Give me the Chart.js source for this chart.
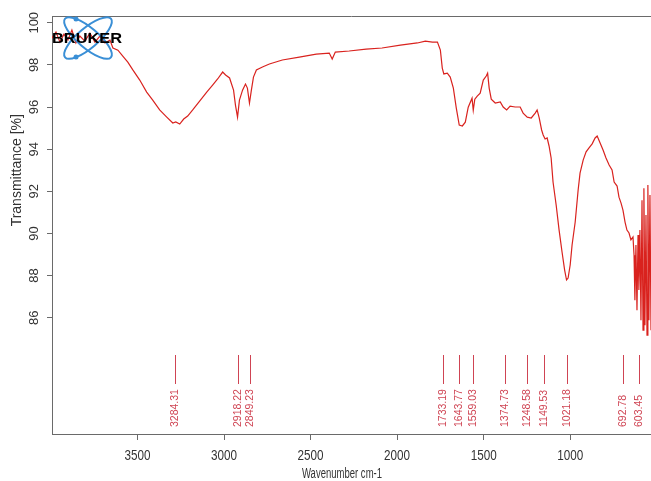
<!DOCTYPE html>
<html>
<head>
<meta charset="utf-8">
<script src="https://cdn.jsdelivr.net/npm/chart.js@4.4.0/dist/chart.umd.min.js"></script>
<style>
html, body { margin: 0; padding: 0; background: #fff; }
#wrap { width: 651px; height: 481px; }
</style>
</head>
<body>
<div id="wrap"><canvas id="myChart" width="651" height="481"></canvas></div>
<script>
// spectrum (wavenumber cm-1 / transmittance %)
const wavenumbers = [
    3994, 3971, 3948, 3925, 3902, 3879, 3856, 3833, 3804, 3775, 3746, 3717, 3688, 3659, 3642, 3613,
    3585, 3556, 3527, 3487, 3447, 3412, 3372, 3331, 3296, 3279, 3256, 3233, 3210, 3181, 3141, 3100,
    3066, 3037, 3008, 2991, 2968, 2945, 2934, 2922, 2911, 2893, 2876, 2865, 2853, 2842, 2830, 2813,
    2778, 2738, 2663, 2565, 2467, 2392, 2375, 2357, 2277, 2179, 2087, 1981, 1883, 1837, 1796, 1767,
    1750, 1739, 1730, 1710, 1693, 1675, 1658, 1641, 1623, 1606, 1589, 1567, 1560, 1551, 1537, 1520,
    1502, 1485, 1477, 1468, 1456, 1433, 1404, 1387, 1367, 1347, 1318, 1289, 1272, 1248, 1225, 1202,
    1191, 1179, 1165, 1156, 1145, 1133, 1122, 1110, 1099, 1081, 1064, 1047, 1032, 1021, 1012, 1000,
    989, 971, 954, 943, 925, 908, 891, 873, 856, 844, 827, 810, 793, 775, 758, 746,
    729, 718, 706, 695, 683, 672, 660, 649, 637, 631, 626, 620, 614, 608, 603, 597,
    591, 585, 579, 574, 568, 562, 556, 551, 545, 539, 533
]
const transmittance = [
    99.27, 99.56, 99.08, 99.46, 99.18, 99.65, 99.04, 99.37, 99.13, 99.51, 99.08, 99.37, 99.04, 99.18, 98.80, 98.70,
    98.42, 98.13, 97.76, 97.28, 96.71, 96.33, 95.86, 95.52, 95.24, 95.29, 95.19, 95.43, 95.57, 95.86, 96.28, 96.71,
    97.04, 97.33, 97.66, 97.52, 97.38, 96.80, 96.09, 95.52, 96.33, 96.80, 97.09, 96.90, 96.19, 96.80, 97.42, 97.76,
    97.90, 98.04, 98.23, 98.37, 98.51, 98.56, 98.28, 98.61, 98.66, 98.75, 98.80, 98.94, 99.04, 99.13, 99.08, 99.08,
    98.70, 97.85, 97.57, 97.61, 97.42, 96.90, 95.95, 95.14, 95.10, 95.28, 95.99, 96.42, 95.85, 96.37, 96.52, 96.66,
    97.28, 97.47, 97.61, 96.90, 96.37, 96.19, 96.24, 96.00, 95.86, 96.04, 96.00, 96.00, 95.71, 95.52, 95.48, 95.71,
    95.86, 95.48, 94.91, 94.67, 94.48, 94.53, 94.15, 93.58, 92.44, 91.35, 90.16, 89.12, 88.26, 87.79, 87.88, 88.50,
    89.45, 90.54, 92.06, 92.86, 93.48, 93.87, 94.06, 94.25, 94.53, 94.62, 94.29, 93.96, 93.58, 93.25, 93.01, 92.44,
    92.25, 91.72, 91.44, 91.11, 90.54, 90.16, 90.02, 89.69, 89.83, 88.97, 86.83, 89.45, 86.36, 89.92, 87.31, 90.16,
    85.88, 91.58, 85.41, 92.15, 85.64, 90.87, 85.17, 92.30, 85.88, 91.82, 85.41
]
const peakPositions = [3284.31, 2918.22, 2849.23, 1733.19, 1643.77, 1559.03, 1374.73, 1248.58, 1149.53, 1021.18, 692.78, 603.45]
const peakLabels = ['3284.31', '2918.22', '2849.23', '1733.19', '1643.77', '1559.03', '1374.73', '1248.58', '1149.53', '1021.18', '692.78', '603.45']
const xTicks = [3500, 3000, 2500, 2000, 1500, 1000]
const yTicks = [86, 88, 90, 92, 94, 96, 98, 100]

const FONT = '"Liberation Sans", Arial, sans-serif'

// axis texts, peak picks, top frame line and the logo
const decor = {
    id: 'decor',
    afterDraw(chart) {
        const ctx = chart.ctx
        const area = chart.chartArea
        const xs = chart.scales.x
        const ys = chart.scales.y

        ctx.save()
        ctx.strokeStyle = '#6a6a6a'
        ctx.lineWidth = 1
        ctx.beginPath()
        ctx.moveTo(area.left, area.top + 0.5)
        ctx.lineTo(area.right, area.top + 0.5)
        ctx.stroke()

        ctx.fillStyle = '#333'
        ctx.textAlign = 'center'
        ctx.textBaseline = 'middle'

        // y tick labels (rotated like the R output)
        ctx.font = '13px ' + FONT
        yTicks.forEach(v => {
            ctx.save()
            ctx.translate(34, ys.getPixelForValue(v))
            ctx.rotate(-Math.PI / 2)
            ctx.fillText(String(v), 0, 0)
            ctx.restore()
        })

        // y title centred on the labelled range
        const yMid = (ys.getPixelForValue(yTicks[0]) + ys.getPixelForValue(yTicks[yTicks.length - 1])) / 2
        ctx.font = '14px ' + FONT
        ctx.save()
        ctx.translate(17, yMid)
        ctx.rotate(-Math.PI / 2)
        ctx.fillText('Transmittance [%]', 0, 0)
        ctx.restore()

        // x tick labels
        ctx.font = '15px ' + FONT
        xTicks.forEach(v => {
            ctx.save()
            ctx.translate(xs.getPixelForValue(v), 456)
            ctx.scale(0.78, 1)
            ctx.fillText(String(v), 0, 0)
            ctx.restore()
        })

        // x title
        ctx.font = '14px ' + FONT
        ctx.textBaseline = 'alphabetic'
        ctx.save()
        ctx.translate(342, 478)
        ctx.scale(0.68, 1)
        ctx.fillText('Wavenumber cm-1', 0, 0)
        ctx.restore()

        // peak picks
        ctx.strokeStyle = '#cf4453'
        ctx.fillStyle = '#cf4453'
        ctx.font = '10.5px ' + FONT
        ctx.textAlign = 'left'
        ctx.textBaseline = 'middle'
        peakPositions.forEach((p, i) => {
            const px = Math.round(xs.getPixelForValue(p)) + 0.5
            ctx.beginPath()
            ctx.moveTo(px, 355)
            ctx.lineTo(px, 384)
            ctx.stroke()
            ctx.save()
            ctx.translate(px, 427)
            ctx.rotate(-Math.PI / 2)
            ctx.fillText(peakLabels[i], 0, 0)
            ctx.restore()
        })

        // BRUKER logo
        const cx = 88, cy = 38
        ctx.strokeStyle = '#3a8fd6'
        ctx.fillStyle = '#3a8fd6'
        ctx.lineWidth = 2
        ;[0.7, -0.7].forEach(a => {
            ctx.beginPath()
            ctx.ellipse(cx, cy, 30, 10, a, 0, Math.PI * 2)
            ctx.stroke()
        })
        ;[[76, 19], [76, 57]].forEach(d => {
            ctx.beginPath()
            ctx.arc(d[0], d[1], 2.5, 0, Math.PI * 2)
            ctx.fill()
        })
        ctx.fillStyle = '#000'
        ctx.font = 'bold 14px ' + FONT
        ctx.textAlign = 'center'
        const w = ctx.measureText('BRUKER').width
        ctx.save()
        ctx.translate(87, cy + 1)
        ctx.scale(70 / w, 1)
        ctx.fillText('BRUKER', 0, 0)
        ctx.restore()

        ctx.restore()
    }
}

const data = {
    datasets: [{
        data: wavenumbers.map((w, i) => ({ x: w, y: transmittance[i] })),
        borderColor: '#d9221e',
        borderWidth: 1.2,
        pointRadius: 0,
        tension: 0,
        fill: false
    }]
}

const config = {
    type: 'line',
    data: data,
    options: {
        responsive: false,
        animation: false,
        layout: { padding: { top: 16, left: 0, right: 0, bottom: 0 } },
        plugins: { legend: { display: false }, tooltip: { enabled: false } },
        scales: {
            x: {
                type: 'linear',
                reverse: true,
                min: 533,
                max: 3994,
                afterBuildTicks: s => { s.ticks = xTicks.map(v => ({ value: v })) },
                afterFit: s => { s.height = 47 },
                ticks: { display: false },
                grid: { drawOnChartArea: false, drawTicks: true, tickLength: 6, color: '#6a6a6a' },
                border: { display: true, color: '#6a6a6a', width: 1 }
            },
            y: {
                min: 80.48,
                max: 100.32,
                afterBuildTicks: s => { s.ticks = yTicks.map(v => ({ value: v })) },
                afterFit: s => { s.width = 52 },
                ticks: { display: false },
                grid: { drawOnChartArea: false, drawTicks: true, tickLength: 5, color: '#6a6a6a' },
                border: { display: true, color: '#6a6a6a', width: 1 }
            }
        }
    },
    plugins: [decor]
}

const chart = new Chart(document.getElementById('myChart'), config)
</script>
</body>
</html>
